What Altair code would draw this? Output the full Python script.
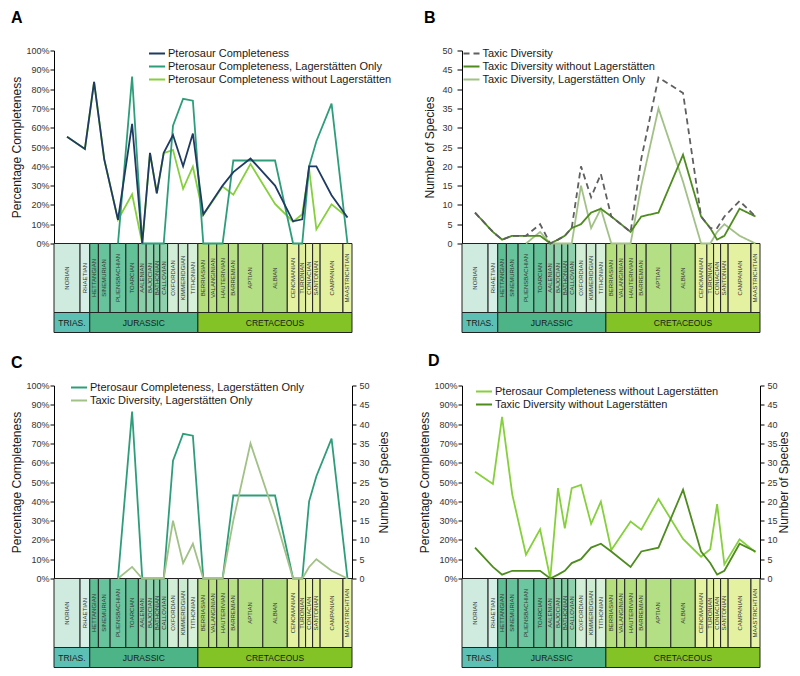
import altair as alt
import pandas as pd

# ---------------- data ----------------
stages = ["NORIAN", "RHAETIAN", "HETTANGIAN", "SINEMURIAN", "PLIENSBACHIAN", "TOARCIAN",
          "AALENIAN", "BAJOCIAN", "BATHONIAN", "CALLOVIAN", "OXFORDIAN", "KIMMERIDGIAN",
          "TITHONIAN", "BERRIASIAN", "VALANGINIAN", "HAUTERIVIAN", "BARREMIAN", "APTIAN",
          "ALBIAN", "CENOMANIAN", "TURONIAN", "CONIACIAN", "SANTONIAN", "CAMPANIAN",
          "MAASTRICHTIAN"]
# relative span of each stage on the time-scale bar (as drawn in the figure)
stage_span = [26, 9.7, 8.6, 11.7, 15.7, 12.5, 7.8, 7.6, 6, 7.8, 10.7, 9.5, 10,
              10.8, 8, 11.7, 9.7, 24.6, 24.4, 11.6, 6.7, 7, 7.5, 22.8, 9]
stage_period = ["TRIAS."] * 2 + ["JURASSIC"] * 11 + ["CRETACEOUS"] * 12
stage_colors = ["#cfeadf", "#d6efe6",
                "#5ebf95", "#66c39b", "#6cc69f", "#62c197",
                "#88cfa8", "#91d3ae", "#84cda5", "#8ed1ac",
                "#d3eed6", "#cdebd0", "#d7f0da",
                "#b4df7c", "#bae184", "#b1dd7d", "#b8e086", "#b5df84", "#b0dc80",
                "#e5f2a2", "#e1f09c", "#e8f4a7", "#e3f19f", "#e3f1a1", "#e7f3a6"]
periods = ["TRIAS.", "JURASSIC", "CRETACEOUS"]
period_colors = ["#5cc0b5", "#4db488", "#83c326"]

N = None
completeness_all = [55.3, 49, 83.7, 43.6, 12.3, 62, 0, 47, 26, 47, 56.2, 40, 57, 15, N,
                    30, 37, 44, 30, 11.5, 12.5, 40, 40, 25, 13.5]
completeness_lag = [N, N, N, N, 0, 86.5, 0, 0, 0, 0, 61, 75, 74, 0, N,
                    0, 43, 43, 43, 0, 0, 40, 53, 72.5, 0]
completeness_nolag = [55.3, 49, 83.7, 43.6, 12.3, 25.5, 0, 46.8, 26, 46.8, 48.5, 28.3, 39.8, 14.8, N,
                      29.5, 25.3, 41.2, 20.5, 11.3, 15.2, 38.5, 7.3, 20.3, 13.6]
diversity_all = [8, 3, 1, 2, 2, 5, 0, 1, 2, 4, 20, 12, 18, 7, N,
                 3, 22, 43, 39, 7, 4, 4, 7, 11, 7]
diversity_nolag = [8, 3, 1, 2, 2, 2, 0, 1, 2, 4, 5, 8, 9, 7, N,
                   3, 7, 8, 23, 7, 4, 1, 2, 9, 7]
diversity_lag = [N, N, N, N, 0, 3, 0, 0, 0, 0, 15, 4, 9, 0, N,
                 0, 15, 35, 16, 0, 0, 3, 5, 2, 0]

S_ALL = "Pterosaur Completeness"
S_LAG = "Pterosaur Completeness, Lagerstätten Only"
S_NOLAG = "Pterosaur Completeness without Lagerstätten"
D_ALL = "Taxic Diversity"
D_NOLAG = "Taxic Diversity without Lagerstätten"
D_LAG = "Taxic Diversity, Lagerstätten Only"

colors = {S_ALL: "#1f3b63", S_LAG: "#2e9e7a", S_NOLAG: "#86d03c",
          D_ALL: "#5f5f5f", D_NOLAG: "#4e8c1e", D_LAG: "#a2c187"}

# ---------------- derived tables ----------------
starts, ends = [], []
acc = 0.0
for s in stage_span:
    starts.append(acc)
    acc += s
    ends.append(acc)
mids = [(a + b) / 2 for a, b in zip(starts, ends)]
TOTAL = acc

stage_df = pd.DataFrame({"stage": stages, "x0": starts, "x1": ends, "mid": mids,
                         "color": stage_colors, "period": stage_period})
per_rows = []
for p, c in zip(periods, period_colors):
    sub = stage_df[stage_df.period == p]
    per_rows.append({"period": p, "x0": sub.x0.min(), "x1": sub.x1.max(),
                     "mid": (sub.x0.min() + sub.x1.max()) / 2, "color": c})
period_df = pd.DataFrame(per_rows)

series_values = {S_ALL: completeness_all, S_LAG: completeness_lag, S_NOLAG: completeness_nolag,
                 D_ALL: diversity_all, D_NOLAG: diversity_nolag, D_LAG: diversity_lag}
rows = []
for name, vals in series_values.items():
    for st, m, v in zip(stages, mids, vals):
        if v is not None:
            rows.append({"stage": st, "x": m, "value": v, "series": name})
data = pd.DataFrame(rows)

# ---------------- layout constants ----------------
W, H = 298, 193
STAGE_H, TS_H = 69, 89
xs = alt.Scale(domain=[0, TOTAL], nice=False, zero=False)

pct_scale = alt.Scale(domain=[0, 100], nice=False)
num_scale = alt.Scale(domain=[0, 50], nice=False)


def pct_axis():
    return alt.Axis(values=list(range(0, 101, 10)), labelExpr="datum.value + '%'",
                    title="Percentage Completeness", orient="left", tickSize=4,
                    labelPadding=1, titlePadding=2)


def num_axis(orient, title_pad=3):
    if orient == "left":
        return alt.Axis(values=list(range(0, 51, 5)), title="Number of Species", orient="left",
                        tickSize=5, labelPadding=5, titlePadding=5)
    return alt.Axis(values=list(range(0, 51, 5)), title="Number of Species", orient="right",
                    tickSize=4, labelPadding=3, titlePadding=title_pad, titleAngle=270,
                    titleBaseline="top")


def legend(lx, ly):
    return alt.Legend(orient="none", legendX=lx, legendY=ly, title=None, symbolType="stroke",
                      symbolSize=256, symbolStrokeWidth=2, labelFontSize=11,
                      labelColor="#1a1a1a", clipHeight=13, rowPadding=0, labelOffset=2,
                      labelLimit=400, padding=0)


def line(name, yscale, yaxis, domain, leg, dash=False, width=1.8):
    enc = dict(
        x=alt.X("x:Q", scale=xs, axis=None),
        y=alt.Y("value:Q", scale=yscale, axis=yaxis),
        color=alt.Color("series:N", scale=alt.Scale(domain=domain,
                                                    range=[colors[d] for d in domain]),
                        legend=leg),
    )
    if dash:
        enc["strokeDash"] = alt.StrokeDash(
            "series:N",
            scale=alt.Scale(domain=domain, range=[[6, 4], [1, 0], [1, 0]]),
            legend=leg)
    return (alt.Chart(data).transform_filter(alt.datum.series == name)
            .mark_line(strokeWidth=width).encode(**enc))


def timescale_layers():
    srect = alt.Chart(stage_df).mark_rect(stroke="#222222", strokeWidth=1).encode(
        x=alt.X("x0:Q", scale=xs, axis=None), x2="x1:Q",
        y=alt.value(H), y2=alt.value(H + STAGE_H),
        fill=alt.Fill("color:N", scale=None))
    stext = alt.Chart(stage_df).mark_text(angle=270, fontSize=6, color="#333333",
                                          baseline="middle", align="center").encode(
        x=alt.X("mid:Q", scale=xs, axis=None), y=alt.value(H + STAGE_H / 2), text="stage:N")
    prect = alt.Chart(period_df).mark_rect(stroke="#222222", strokeWidth=1).encode(
        x=alt.X("x0:Q", scale=xs, axis=None), x2="x1:Q",
        y=alt.value(H + STAGE_H), y2=alt.value(H + TS_H),
        fill=alt.Fill("color:N", scale=None))
    ptext = alt.Chart(period_df).mark_text(fontSize=8.5, color="#1a1a1a",
                                           baseline="middle", align="center").encode(
        x=alt.X("mid:Q", scale=xs, axis=None), y=alt.value(H + (STAGE_H + TS_H) / 2),
        text="period:N")
    return [srect, stext, prect, ptext]


def letter(txt, dx=0, offset=21):
    return alt.TitleParams(txt, anchor="start", fontSize=16, fontWeight="bold",
                           offset=offset, dx=dx, frame="bounds", color="#000000")


# Panel A
domA = [S_ALL, S_LAG, S_NOLAG]
legA = legend(94, -3.5)
plotA = alt.layer(
    *timescale_layers(),
    line(S_NOLAG, pct_scale, pct_axis(), domA, legA),
    line(S_LAG, pct_scale, pct_axis(), domA, legA),
    line(S_ALL, pct_scale, pct_axis(), domA, legA),
).properties(width=W, height=H, title=letter("A"))

# Panel B
domB = [D_ALL, D_NOLAG, D_LAG]
legB = legend(0.5, -3.5)
plotB = alt.layer(
    *timescale_layers(),
    line(D_LAG, num_scale, num_axis("left"), domB, legB, dash=True),
    line(D_NOLAG, num_scale, num_axis("left"), domB, legB, dash=True),
    line(D_ALL, num_scale, num_axis("left"), domB, legB, dash=True),
).properties(width=W, height=H, title=letter("B"))

# Panel C
domC = [S_LAG, D_LAG]
legC = legend(16, -4.5)
plotC = alt.layer(
    *timescale_layers(),
    line(S_LAG, pct_scale, pct_axis(), domC, legC),
    line(D_LAG, num_scale, num_axis("right", title_pad=9), domC, legC),
).resolve_scale(y="independent").properties(width=W, height=H, title=letter("C", offset=10))

# Panel D
domD = [S_NOLAG, D_NOLAG]
legD = legend(13, -0.5)
plotD = alt.layer(
    *timescale_layers(),
    line(S_NOLAG, pct_scale, pct_axis(), domD, legD),
    line(D_NOLAG, num_scale, num_axis("right", title_pad=1), domD, legD),
).resolve_scale(y="independent").properties(width=W, height=H,
                                            title=letter("D", dx=9, offset=13))

chart = alt.concat(
    plotA, plotB, plotC, plotD, columns=2, align="each",
    spacing={"row": 19, "column": 26},
).resolve_scale(color="independent", strokeDash="independent").resolve_legend(
    color="independent", strokeDash="independent"
).properties(
    padding={"top": 1.5, "left": 2, "right": 0, "bottom": 0}
).configure(font="Liberation Sans").configure_view(stroke=None).configure_axis(
    grid=False, domainColor="#000000", tickColor="#000000", labelFontSize=9,
    labelColor="#333333", titleFontSize=12, titleFontWeight="normal", titleColor="#1a1a1a",
    domainWidth=1, tickWidth=1)

chart.save("out.html", embed_options={"renderer": "svg", "actions": False})
